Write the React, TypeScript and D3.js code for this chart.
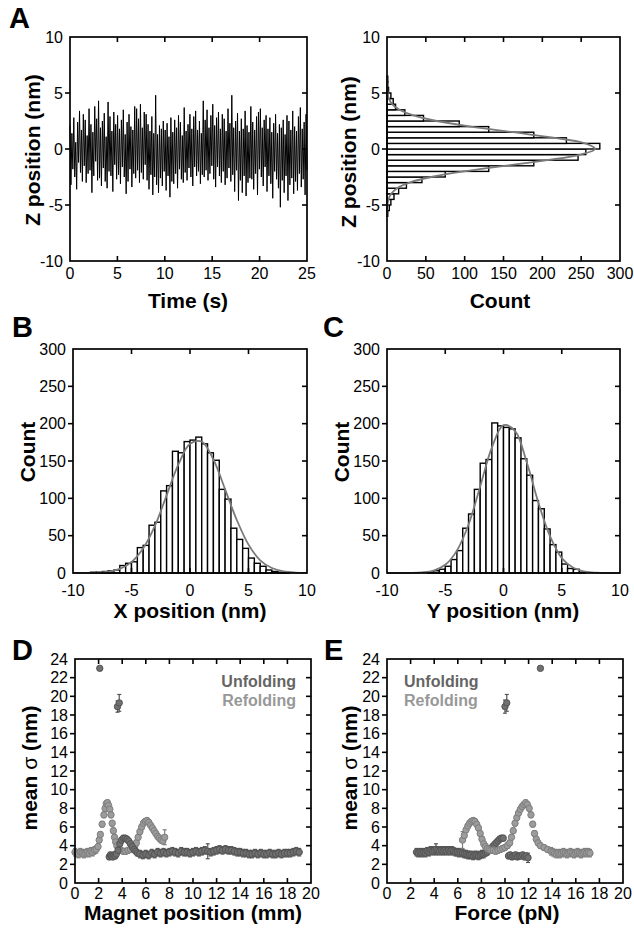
import * as d3 from "d3";

const FONT = "'Liberation Sans', Arial, Helvetica, sans-serif";

// ---------- A (left): Z position trace, 0.1 s per sample ----------
const traceSeconds = 25;
const zTrace = [
  2.1, -3.2, 1.4, -1.8, 2.8, -2.5, 0.6, -3.6, 2.4, -1.2,
  3.4, -2.1, 1.7, -2.9, 3.1, -1.5, 2.6, -3.0, 1.2, -2.2,
  3.6, -1.9, 2.2, -3.9, 1.5, -2.4, 3.8, -1.1, 2.7, -2.8,
  4.3, -2.6, 1.9, -3.3, 2.5, -1.7, 3.2, -2.9, 1.1, -3.5,
  4.2, -2.0, 2.9, -2.4, 1.6, -3.8, 3.3, -1.4, 2.2, -2.7,
  3.0, -2.3, 1.8, -3.1, 2.6, -1.6, 3.5, -2.5, 1.3, -4.0,
  2.4, -2.9, 3.1, -1.8, 2.0, -3.4, 1.7, -2.2, 3.8, -2.6,
  3.6, -1.9, 2.7, -3.0, 4.0, -2.1, 1.9, -2.7, 3.3, -1.4,
  3.1, -2.8, 2.2, -3.6, 1.6, -2.3, 2.9, -4.1, 1.4, -2.5,
  4.8, -3.2, 1.3, -3.9, 2.1, -2.6, 1.8, -3.3, 2.5, -2.0,
  1.7, -3.7, 2.3, -2.4, 1.1, -4.3, 2.8, -2.9, 1.5, -3.1,
  2.6, -2.2, 1.9, -3.5, 3.0, -1.8, 2.4, -2.7, 1.2, -3.0,
  3.7, -2.1, 1.6, -2.8, 2.2, -1.7, 3.1, -2.5, 1.8, -3.3,
  2.9, -1.6, 3.4, -2.4, 1.7, -2.0, 2.5, -3.1, 1.4, -2.3,
  4.3, -2.5, 2.6, -1.9, 3.5, -2.8, 1.9, -2.2, 3.0, -1.5,
  4.0, -2.7, 2.1, -3.4, 2.8, -1.6, 3.3, -2.4, 1.8, -3.0,
  3.1, -2.0, 2.7, -3.2, 1.6, -2.6, 3.6, -1.7, 2.3, -2.9,
  4.8, -2.3, 1.9, -3.8, 2.5, -1.9, 3.2, -4.6, 1.6, -2.8,
  2.7, -3.9, 1.8, -2.4, 3.4, -4.2, 2.1, -3.0, 1.5, -2.6,
  3.8, -2.7, 2.4, -3.6, 1.7, -2.2, 2.9, -4.1, 3.3, -1.8,
  3.6, -2.5, 1.9, -3.3, 2.6, -1.6, 3.0, -3.8, 1.8, -2.4,
  2.8, -3.1, 1.5, -4.4, 2.3, -2.0, 3.1, -2.7, 1.4, -3.5,
  2.2, -5.2, 1.9, -2.8, 2.6, -3.9, 1.3, -2.4, 3.0, -4.6,
  2.5, -3.2, 1.7, -2.6, 3.4, -4.0, 2.0, -2.9, 1.6, -3.7,
  2.9, -2.2, 3.7, -3.4, 1.8, -2.7, 2.4, -4.1, 3.1, -1.9,
];

// ---------- A (right): Z histogram ----------
const zBinStart = -6;
const zBinWidth = 0.5;
const zCounts = [1, 3, 5, 9, 15, 25, 45, 75, 131, 189, 246, 256, 274, 231, 189, 131, 93, 47, 23, 11, 8, 5, 2, 1, 1];
const zFitPos = [-6, -5, -4.5, -4, -3.5, -3, -2.5, -2, -1.5, -1, -0.5, 0, 0.5, 1, 1.5, 2, 2.5, 3, 3.5, 4, 4.5, 5, 6, 6.5];
const zFitCount = [0, 0.6, 1.9, 5.4, 13, 29, 57, 99, 151, 206, 249, 268, 255, 216, 162, 108, 64, 34, 16, 6.6, 2.4, 0.8, 0, 0];

// ---------- B: X histogram ----------
const xBinStart = -9;
const xBinWidth = 0.5;
const xCounts = [
  0, 1, 1, 2, 3, 4,
  10, 13, 15, 34, 37, 64, 68, 110, 117, 163, 161, 176,
  178, 182, 173, 161, 151, 112, 99, 60, 45, 33, 20, 13,
  9, 4, 2, 1, 1, 0,
];
const xFitPos = [-10, -9, -8, -7, -6, -5, -4, -3, -2, -1, 0, 1, 2, 3, 4, 5, 6, 7, 8, 9, 10];
const xFitCount = [0, 0.1, 0.5, 1.7, 5.5, 14.5, 33, 63, 104, 145, 173, 176, 152, 112, 71, 38, 17, 6.7, 2.2, 0.6, 0.1];

// ---------- C: Y histogram ----------
const yBinStart = -6.5;
const yBinWidth = 0.5;
const yCounts = [1, 3, 5, 9, 18, 30, 60, 79, 112, 147, 152, 201, 197, 195, 193, 181, 153, 131, 97, 86, 59, 38, 28, 12, 6, 5, 1];
const yFitPos = [-10, -9, -8, -7, -6, -5, -4, -3, -2, -1, 0, 1, 2, 3, 4, 5, 6, 7, 8, 9, 10];
const yFitCount = [0, 0, 0.1, 0.8, 3.3, 11, 30, 65, 116, 168, 198, 190, 148, 94, 49, 20, 7, 1.9, 0.4, 0, 0];

// ---------- D: mean sigma vs magnet position [x, y, err] ----------
const unfoldMagnet: number[][] = [
  [2.1, 23.0, 0.2], [3.6, 18.9, 0.6], [3.75, 19.3, 0.9],
  [2.9, 2.8, 0.3], [3.0, 3.0, 0.3], [3.1, 2.9, 0.3], [3.2, 2.8, 0.3], [3.3, 3.0, 0.3], [3.4, 2.9, 0.3], [3.5, 3.1, 0.3],
  [3.65, 3.5, 0.3], [3.8, 4.2, 0.3], [3.95, 4.6, 0.3], [4.1, 4.8, 0.3], [4.25, 4.8, 0.3], [4.4, 4.7, 0.3],
  [4.55, 4.5, 0.3], [4.7, 4.2, 0.3], [4.85, 3.9, 0.3], [5.0, 3.6, 0.3], [5.15, 3.4, 0.3], [5.3, 3.2, 0.3],
  [5.5, 3.1, 0.4], [5.75, 3.0, 0.4], [6.0, 3.1, 0.4], [6.25, 3.0, 0.4], [6.5, 3.2, 0.4], [6.75, 3.1, 0.4],
  [7.0, 3.3, 0.4], [7.25, 3.2, 0.4], [7.5, 3.3, 0.4], [7.75, 3.2, 0.4], [8.0, 3.3, 0.4], [8.25, 3.4, 0.4],
  [8.5, 3.3, 0.4], [8.75, 3.2, 0.4], [9.0, 3.4, 0.4], [9.25, 3.3, 0.4], [9.5, 3.3, 0.4], [9.75, 3.2, 0.4],
  [10.0, 3.3, 0.4], [10.25, 3.4, 0.4], [10.5, 3.3, 0.4], [10.75, 3.4, 0.4], [11.0, 3.5, 0.4], [11.25, 3.4, 0.8],
  [11.5, 3.3, 0.4], [11.75, 3.4, 0.4], [12.0, 3.5, 0.4], [12.25, 3.6, 0.4], [12.5, 3.5, 0.4], [12.75, 3.6, 0.4],
  [13.0, 3.5, 0.4], [13.25, 3.5, 0.4], [13.5, 3.4, 0.4], [13.75, 3.3, 0.4], [14.0, 3.3, 0.4], [14.25, 3.2, 0.4],
  [14.5, 3.2, 0.4], [14.75, 3.1, 0.4], [15.0, 3.1, 0.4], [15.25, 3.2, 0.4], [15.5, 3.1, 0.4], [15.75, 3.2, 0.4],
  [16.0, 3.1, 0.4], [16.25, 3.1, 0.4], [16.5, 3.2, 0.4], [16.75, 3.1, 0.4], [17.0, 3.1, 0.4], [17.25, 3.2, 0.4],
  [17.5, 3.1, 0.4], [17.75, 3.2, 0.4], [18.0, 3.2, 0.4], [18.25, 3.2, 0.4], [18.5, 3.3, 0.4], [18.75, 3.4, 0.4],
  [19.0, 3.3, 0.4],
];
const refoldMagnet: number[][] = [
  [0.0, 3.3, 0.4], [0.15, 3.2, 0.4], [0.3, 3.1, 0.4], [0.45, 3.3, 0.4], [0.6, 3.2, 0.4], [0.75, 3.1, 0.4],
  [0.9, 3.2, 0.4], [1.05, 3.3, 0.4], [1.2, 3.2, 0.4], [1.35, 3.4, 0.4], [1.5, 3.3, 0.4], [1.65, 3.5, 0.4],
  [1.8, 3.6, 0.4], [1.95, 3.9, 0.3],
  [2.05, 4.6, 0.3], [2.15, 5.2, 0.3], [2.3, 6.3, 0.3], [2.45, 7.3, 0.3], [2.55, 8.0, 0.3], [2.65, 8.5, 0.3],
  [2.75, 8.6, 0.3], [2.85, 8.3, 0.3], [2.95, 7.9, 0.3], [3.05, 7.3, 0.3], [3.15, 6.4, 0.3], [3.25, 5.6, 0.3],
  [3.35, 4.9, 0.3], [3.45, 4.4, 0.3], [3.55, 4.0, 0.3], [3.7, 3.7, 0.3],
  [3.9, 3.5, 0.3], [4.1, 3.4, 0.3], [4.3, 3.4, 0.3], [4.5, 3.5, 0.3], [4.7, 3.6, 0.3], [4.9, 3.7, 0.3],
  [5.05, 3.9, 0.3], [5.2, 4.3, 0.3], [5.35, 4.9, 0.3], [5.5, 5.5, 0.3], [5.65, 6.0, 0.3], [5.8, 6.4, 0.3],
  [5.95, 6.6, 0.3], [6.1, 6.7, 0.3], [6.25, 6.5, 0.3], [6.4, 6.2, 0.3], [6.55, 5.9, 0.3], [6.7, 5.6, 0.3],
  [6.85, 5.3, 0.3], [7.0, 5.0, 0.3], [7.15, 4.8, 0.3], [7.3, 4.6, 0.3], [7.45, 4.5, 0.3], [7.6, 4.9, 0.8],
];

// ---------- E: mean sigma vs force [x, y, err] ----------
const unfoldForce: number[][] = [
  [2.5, 3.3, 0.4], [2.65, 3.2, 0.4], [2.8, 3.3, 0.4], [2.95, 3.2, 0.4], [3.1, 3.3, 0.4], [3.25, 3.2, 0.4],
  [3.4, 3.4, 0.4], [3.55, 3.3, 0.4], [3.7, 3.5, 0.4], [3.85, 3.4, 0.4], [4.0, 3.5, 0.4], [4.15, 3.6, 0.6],
  [4.3, 3.5, 0.4], [4.45, 3.4, 0.4], [4.6, 3.5, 0.4], [4.75, 3.4, 0.4], [4.9, 3.5, 0.4], [5.05, 3.4, 0.4],
  [5.2, 3.5, 0.4], [5.35, 3.4, 0.4], [5.5, 3.5, 0.4], [5.65, 3.4, 0.4], [5.8, 3.3, 0.4], [5.95, 3.3, 0.4],
  [6.1, 3.2, 0.4], [6.25, 3.3, 0.4], [6.4, 3.2, 0.4], [6.55, 3.1, 0.4], [6.7, 3.1, 0.4], [6.85, 3.0, 0.4],
  [7.0, 3.0, 0.4], [7.15, 3.0, 0.4], [7.3, 2.9, 0.4], [7.45, 3.0, 0.4], [7.6, 3.0, 0.4], [7.75, 2.9, 0.4],
  [7.9, 3.0, 0.4], [8.05, 3.1, 0.4], [8.2, 3.1, 0.4], [8.35, 3.2, 0.3], [8.5, 3.3, 0.3], [8.65, 3.5, 0.3],
  [8.8, 3.7, 0.3], [8.95, 3.9, 0.3], [9.1, 4.1, 0.3], [9.25, 4.3, 0.3], [9.4, 4.5, 0.3], [9.55, 4.7, 0.3],
  [9.7, 4.8, 0.3], [9.85, 4.8, 0.3],
  [10.0, 18.9, 0.7], [10.15, 19.3, 0.9],
  [10.3, 2.9, 0.3], [10.45, 3.0, 0.3], [10.6, 2.8, 0.3], [10.75, 2.9, 0.3], [10.9, 3.0, 0.3], [11.05, 2.8, 0.3],
  [11.2, 2.9, 0.3], [11.35, 2.9, 0.3], [11.5, 3.0, 0.3], [11.65, 2.8, 0.3], [11.8, 2.9, 0.3], [11.95, 2.7, 0.5],
  [13.0, 23.0, 0.2],
];
const refoldForce: number[][] = [
  [6.4, 4.6, 0.9], [6.55, 5.1, 0.3], [6.7, 5.7, 0.3], [6.85, 6.1, 0.3], [7.0, 6.4, 0.3], [7.15, 6.6, 0.3],
  [7.3, 6.7, 0.3], [7.45, 6.6, 0.3], [7.6, 6.3, 0.3], [7.75, 5.9, 0.3], [7.9, 5.3, 0.3], [8.05, 4.7, 0.3],
  [8.2, 4.2, 0.3], [8.35, 3.9, 0.3], [8.5, 3.7, 0.3], [8.65, 3.6, 0.3], [8.8, 3.5, 0.3], [9.0, 3.5, 0.3],
  [9.2, 3.4, 0.3], [9.4, 3.5, 0.3], [9.6, 3.6, 0.3], [9.8, 3.7, 0.3], [10.0, 3.8, 0.3], [10.2, 4.0, 0.3],
  [10.4, 4.3, 0.3], [10.55, 4.9, 0.3], [10.7, 5.6, 0.3], [10.85, 6.4, 0.3], [11.0, 7.0, 0.3], [11.15, 7.5, 0.3],
  [11.3, 7.9, 0.3], [11.45, 8.2, 0.3], [11.6, 8.4, 0.3], [11.75, 8.6, 0.3], [11.9, 8.4, 0.3], [12.05, 8.0, 0.3],
  [12.2, 7.3, 0.3], [12.35, 6.3, 0.3], [12.5, 5.3, 0.3], [12.65, 4.7, 0.3], [12.8, 4.3, 0.3], [13.0, 4.0, 0.3],
  [13.3, 3.8, 0.3], [13.6, 3.6, 0.3],
  [13.9, 3.4, 0.4], [14.05, 3.3, 0.4], [14.2, 3.2, 0.4], [14.35, 3.1, 0.4], [14.5, 3.2, 0.4], [14.65, 3.1, 0.4],
  [14.8, 3.2, 0.4], [14.95, 3.3, 0.4], [15.1, 3.2, 0.4], [15.25, 3.1, 0.4], [15.4, 3.2, 0.4], [15.55, 3.3, 0.4],
  [15.7, 3.2, 0.4], [15.85, 3.1, 0.4], [16.0, 3.2, 0.4], [16.15, 3.3, 0.4], [16.3, 3.2, 0.4], [16.45, 3.1, 0.4],
  [16.6, 3.2, 0.4], [16.75, 3.3, 0.4], [16.9, 3.2, 0.4], [17.05, 3.3, 0.4], [17.2, 3.2, 0.4],
];

const UNFOLD = { fill: "#707070", stroke: "#545454", text: "#656565" };
const REFOLD = { fill: "#9c9c9c", stroke: "#7e7e7e", text: "#989898" };

type Scale = d3.ScaleLinear<number, number>;

function Frame({ x, y, xTicks, yTicks, xLabelDy, xTitle, xTitleX, xTitleY, yTitle, yTitleX, yTitleY, children }: any) {
  const [x0, x1] = (x as Scale).range();
  const [yb, yt] = (y as Scale).range();
  const xd = (x as Scale).domain();
  const yd = (y as Scale).domain();
  const tl = 5;
  const innerX = (xTicks as number[]).filter((t) => t !== xd[0] && t !== xd[1]);
  const innerY = (yTicks as number[]).filter((t) => t !== yd[0] && t !== yd[1]);
  return (
    <g>
      {children}
      <rect x={x0} y={yt} width={x1 - x0} height={yb - yt} fill="none" stroke="#000" strokeWidth={1.7} />
      <g stroke="#000" strokeWidth={1.6}>
        {innerX.map((t) => (
          <g key={"xt" + t}>
            <line x1={x(t)} x2={x(t)} y1={yt} y2={yt + tl} />
            <line x1={x(t)} x2={x(t)} y1={yb} y2={yb - tl} />
          </g>
        ))}
        {innerY.map((t) => (
          <g key={"yt" + t}>
            <line x1={x0} x2={x0 - tl} y1={y(t)} y2={y(t)} />
            <line x1={x1} x2={x1 - tl} y1={y(t)} y2={y(t)} />
          </g>
        ))}
      </g>
      <g fontFamily={FONT} fontSize={16} fill="#000">
        {(xTicks as number[]).map((t) => (
          <text key={"xl" + t} x={x(t)} y={yb + xLabelDy} textAnchor="middle">
            {t}
          </text>
        ))}
        {(yTicks as number[]).map((t) => (
          <text key={"yl" + t} x={x0 - 7} y={y(t)} dy="0.36em" textAnchor="end">
            {t}
          </text>
        ))}
      </g>
      <g fontFamily={FONT} fontSize={21} fontWeight="bold" fill="#000">
        <text x={xTitleX} y={xTitleY} textAnchor="middle">
          {xTitle}
        </text>
        <text transform={`translate(${yTitleX},${yTitleY}) rotate(-90)`} textAnchor="middle">
          {yTitle}
        </text>
      </g>
    </g>
  );
}

function VHist({ x, y, start, width, counts }: any) {
  return (
    <g fill="#fff" stroke="#000" strokeWidth={1.4}>
      {(counts as number[]).map((c, i) =>
        c > 0 ? (
          <rect
            key={i}
            x={x(start + i * width)}
            width={x(start + (i + 1) * width) - x(start + i * width)}
            y={y(c)}
            height={y(0) - y(c)}
          />
        ) : null
      )}
    </g>
  );
}

function Scatter({ x, y, data, style }: any) {
  return (
    <g>
      <g stroke={style.stroke} strokeWidth={1.2}>
        {(data as number[][]).map((d, i) => (
          <g key={i}>
            <line x1={x(d[0])} x2={x(d[0])} y1={y(d[1] - d[2])} y2={y(d[1] + d[2])} />
            <line x1={x(d[0]) - 2} x2={x(d[0]) + 2} y1={y(d[1] + d[2])} y2={y(d[1] + d[2])} />
            <line x1={x(d[0]) - 2} x2={x(d[0]) + 2} y1={y(d[1] - d[2])} y2={y(d[1] - d[2])} />
          </g>
        ))}
      </g>
      <g fill={style.fill} stroke={style.stroke} strokeWidth={1}>
        {(data as number[][]).map((d, i) => (
          <circle key={i} cx={x(d[0])} cy={y(d[1])} r={3.2} />
        ))}
      </g>
    </g>
  );
}

const sigmaTitle = (
  <>
    <tspan>mean </tspan>
    <tspan fontWeight="normal">σ</tspan>
    <tspan> (nm)</tspan>
  </>
);

export default function App() {
  // A left
  const tA = d3.scaleLinear([0, traceSeconds], [70, 307]);
  const zA = d3.scaleLinear([-10, 10], [261, 37]);
  const idx = d3.scaleLinear([0, zTrace.length - 1], [0, traceSeconds]);
  const trace = d3.line<number>((d, i) => tA(idx(i)), (d) => zA(d))(zTrace);

  // A right
  const cA = d3.scaleLinear([0, 300], [387, 620]);
  const zA2 = d3.scaleLinear([-10, 10], [261, 37]);
  const zFit = d3
    .line<number>((d) => cA(d), (d, i) => zA2(zFitPos[i]))
    .curve(d3.curveCatmullRom)(zFitCount);

  // B
  const xB = d3.scaleLinear([-10, 10], [73, 307]);
  const cB = d3.scaleLinear([0, 300], [573, 349]);
  const xFit = d3.line<number>((d, i) => xB(xFitPos[i]), (d) => cB(d)).curve(d3.curveCatmullRom)(xFitCount);

  // C
  const xC = d3.scaleLinear([-10, 10], [387, 620]);
  const cC = d3.scaleLinear([0, 300], [573, 349]);
  const yFit = d3.line<number>((d, i) => xC(yFitPos[i]), (d) => cC(d)).curve(d3.curveCatmullRom)(yFitCount);

  // D, E
  const xD = d3.scaleLinear([0, 20], [75, 311]);
  const yD = d3.scaleLinear([0, 24], [883, 659]);
  const xE = d3.scaleLinear([0, 20], [387, 623]);
  const yE = d3.scaleLinear([0, 24], [883, 659]);
  const sigTicks = d3.range(0, 25, 2);
  const magTicks = d3.range(0, 21, 2);

  return (
    <svg width={634} height={935} style={{ position: "absolute", left: 0, top: 0, background: "#fff" }}>
      <rect width={634} height={935} fill="#fff" />
      <g fontFamily={FONT} fontWeight="bold" fontSize={29} fill="#000">
        <text x={9} y={28}>A</text>
        <text x={12} y={337}>B</text>
        <text x={323} y={337}>C</text>
        <text x={12} y={660}>D</text>
        <text x={324} y={660}>E</text>
      </g>

      <Frame
        x={tA} y={zA} xTicks={[0, 5, 10, 15, 20, 25]} yTicks={[-10, -5, 0, 5, 10]}
        xLabelDy={18} xTitle="Time (s)" xTitleX={188} xTitleY={308}
        yTitle="Z position (nm)" yTitleX={40} yTitleY={150}
      >
        <path d={trace ?? ""} fill="none" stroke="#000" strokeWidth={1} />
      </Frame>

      <Frame
        x={cA} y={zA2} xTicks={[0, 50, 100, 150, 200, 250, 300]} yTicks={[-10, -5, 0, 5, 10]}
        xLabelDy={18} xTitle="Count" xTitleX={500} xTitleY={308}
        yTitle="Z position (nm)" yTitleX={356} yTitleY={152}
      >
        <g fill="#fff" stroke="#000" strokeWidth={1.4}>
          {zCounts.map((c, i) => (
            <rect
              key={i}
              x={cA(0)}
              width={cA(c) - cA(0)}
              y={zA2(zBinStart + (i + 1) * zBinWidth)}
              height={zA2(zBinStart + i * zBinWidth) - zA2(zBinStart + (i + 1) * zBinWidth)}
            />
          ))}
        </g>
        <path d={zFit ?? ""} fill="none" stroke="#7a7a7a" strokeWidth={1.8} />
      </Frame>

      <Frame
        x={xB} y={cB} xTicks={[-10, -5, 0, 5, 10]} yTicks={[0, 50, 100, 150, 200, 250, 300]}
        xLabelDy={23} xTitle="X position (nm)" xTitleX={190} xTitleY={618}
        yTitle="Count" yTitleX={35} yTitleY={452}
      >
        <VHist x={xB} y={cB} start={xBinStart} width={xBinWidth} counts={xCounts} />
        <path d={xFit ?? ""} fill="none" stroke="#7a7a7a" strokeWidth={1.8} />
      </Frame>

      <Frame
        x={xC} y={cC} xTicks={[-10, -5, 0, 5, 10]} yTicks={[0, 50, 100, 150, 200, 250, 300]}
        xLabelDy={23} xTitle="Y position (nm)" xTitleX={503} xTitleY={618}
        yTitle="Count" yTitleX={349} yTitleY={452}
      >
        <VHist x={xC} y={cC} start={yBinStart} width={yBinWidth} counts={yCounts} />
        <path d={yFit ?? ""} fill="none" stroke="#7a7a7a" strokeWidth={1.8} />
      </Frame>

      <Frame
        x={xD} y={yD} xTicks={magTicks} yTicks={sigTicks}
        xLabelDy={16} xTitle="Magnet position (mm)" xTitleX={193} xTitleY={920}
        yTitle={sigmaTitle} yTitleX={37} yTitleY={768}
      >
        <Scatter x={xD} y={yD} data={refoldMagnet} style={REFOLD} />
        <Scatter x={xD} y={yD} data={unfoldMagnet} style={UNFOLD} />
        <g fontFamily={FONT} fontWeight="bold" fontSize={16} textAnchor="end">
          <text x={296} y={687} fill={UNFOLD.text}>Unfolding</text>
          <text x={296} y={706} fill={REFOLD.text}>Refolding</text>
        </g>
      </Frame>

      <Frame
        x={xE} y={yE} xTicks={magTicks} yTicks={sigTicks}
        xLabelDy={16} xTitle="Force (pN)" xTitleX={507} xTitleY={920}
        yTitle={sigmaTitle} yTitleX={357} yTitleY={768}
      >
        <Scatter x={xE} y={yE} data={unfoldForce} style={UNFOLD} />
        <Scatter x={xE} y={yE} data={refoldForce} style={REFOLD} />
        <g fontFamily={FONT} fontWeight="bold" fontSize={16}>
          <text x={404} y={687} fill={UNFOLD.text}>Unfolding</text>
          <text x={404} y={706} fill={REFOLD.text}>Refolding</text>
        </g>
      </Frame>
    </svg>
  );
}
